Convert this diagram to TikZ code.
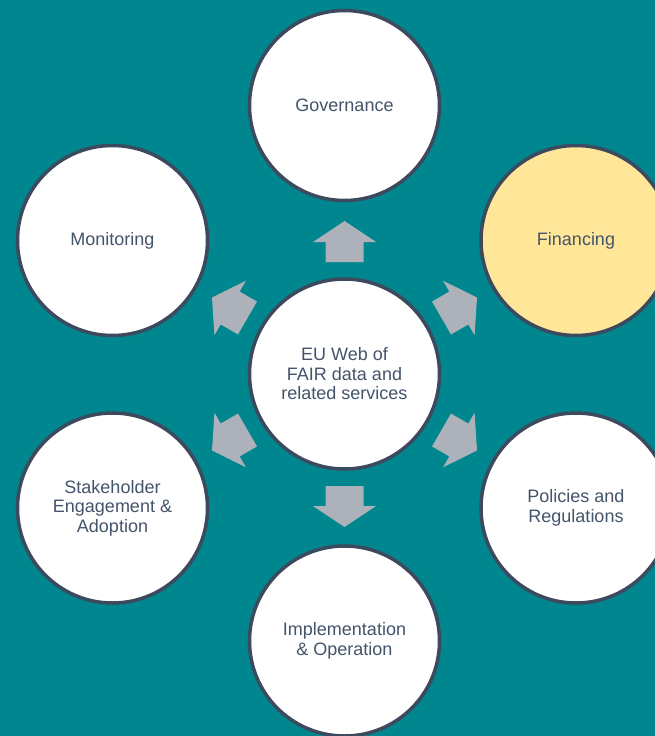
\documentclass[tikz,border=0pt]{standalone}
\usepackage{fontspec}
\setmainfont{Liberation Sans}
\definecolor{bgc}{HTML}{00868E}
\definecolor{ringc}{HTML}{3D4A5E}
\definecolor{txtc}{HTML}{44546A}
\definecolor{arrowc}{HTML}{ADB1BA}
\definecolor{yellowc}{HTML}{FFE699}
\begin{document}
\begin{tikzpicture}[x=1pt,y=-1pt]
\tikzset{
  topic/.style={circle, draw=ringc, line width=3.5pt, fill=white, minimum size=190pt,
    inner sep=0pt, text=txtc, font=\fontsize{18}{19.5}\selectfont, align=center},
  blockarrow/.style={fill=arrowc, draw=none}
}
\fill[bgc] (0,0) rectangle (655,736);
\useasboundingbox (0,0) rectangle (655,736);
\node[topic] (core) at (344.5,374) {EU Web of\\FAIR data and\\related services};
\node[topic] (gov) at (344.5,105.5) {Governance};
\node[topic] (mon) at (112.5,240.5) {Monitoring};
\node[topic, fill=yellowc] (fin) at (576,240.5) {Financing};
\node[topic] (stake) at (112.5,508) {Stakeholder\\Engagement \&\\Adoption};
\node[topic] (pol) at (576,508) {Policies and\\Regulations};
\node[topic] (impl) at (344.5,641) {Implementation\\\& Operation};
\foreach \a in {90,30,-30,-90,-150,150}{
  \fill[blockarrow, shift={(core.center)}, rotate=\a]
    (112,-19) -- (132,-19) -- (132,-31.5) -- (153,0) -- (132,31.5) -- (132,19) -- (112,19) -- cycle;
}
\end{tikzpicture}
\end{document}
